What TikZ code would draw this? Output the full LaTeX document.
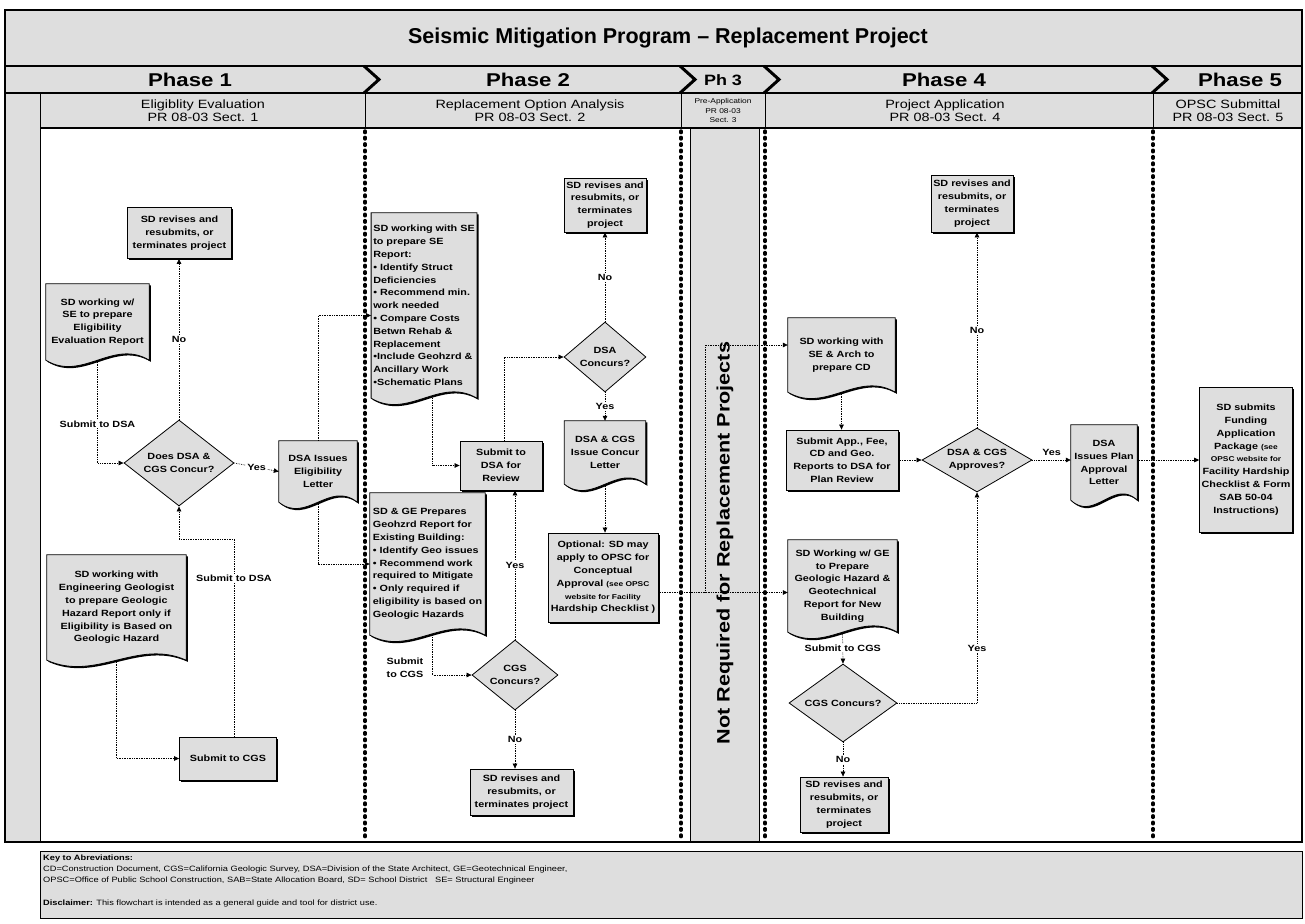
\documentclass[tikz,border=0pt]{standalone}
\usepackage{fontspec}
\setmainfont{Liberation Sans}
\newfontfamily\wide{Liberation Sans}[FakeStretch=1.2]
\usetikzlibrary{shapes.geometric,arrows.meta,shadows,calc,backgrounds}
\definecolor{bgshade}{gray}{0.87}
\newcommand{\bx}{\wide\bfseries\fontsize{9}{12.8}\selectfont}
\newcommand{\smb}{\wide\bfseries\fontsize{7}{10.5}\selectfont}
\newcommand{\zw}[1]{\makebox[0pt]{#1}}
\newcommand{\docshape}[1]{%
  \path[docsty] let \p1=(#1.north west), \p2=(#1.south east), \n1={\x2-\x1} in
   (\p1) -- (\x2,\y1) -- (\p2) .. controls ({\x2-0.35*\n1},{\y2+22pt}) and ({\x1+0.35*\n1},{\y2-22pt}) .. (\x1,\y2) -- cycle;}
\begin{document}
\begin{tikzpicture}[x=1pt,y=-1pt,
 shd/.style={drop shadow={shadow xshift=1.6pt,shadow yshift=-1.6pt,fill=black,opacity=1}},
 box/.style={draw,line width=0.8pt,fill=bgshade,shd,align=center,font=\bx,inner sep=2pt},
 doc/.style={align=center,font=\bx,inner sep=2pt},
 docsty/.style={draw,line width=0.8pt,fill=bgshade,shd},
 dia/.style={diamond,draw,line width=0.8pt,fill=bgshade,align=center,font=\bx,inner sep=0pt},
 arr/.style={densely dotted,line width=0.7pt,-{Triangle[length=5pt,width=4.5pt]}},
 lbl/.style={fill=white,inner sep=1pt,font=\bx},
 div/.style={line width=3.4pt,dash pattern=on 1.6pt off 4.8pt,line cap=round},
 hdr/.style={font=\wide\fontsize{12}{13.5}\selectfont,align=center},
 ph/.style={font=\wide\bfseries\fontsize{18.5}{20}\selectfont},
 chev/.style={line width=3pt,line join=miter},
 keytxt/.style={font=\wide\fontsize{7.7}{10}\selectfont,anchor=west,inner sep=0pt}]
\useasboundingbox (0,0) rectangle (1305,923);
\begin{scope}[on background layer]
 \fill[white] (0,0) rectangle (1305,923);
\end{scope}
% header bands
\fill[bgshade] (5,10) rectangle (1302,128);
\fill[bgshade] (5,93) rectangle (40,842);
\fill[bgshade] (690,128) rectangle (759,842);
\draw[line width=1.2pt] (5,10) rectangle (1302,842);
\draw[line width=1.5pt] (5,66) -- (1302,66);
\draw[line width=1.2pt] (5,93) -- (1302,93);
\draw[line width=1.2pt] (40,128) -- (1302,128);
\draw[line width=1pt] (40,93) -- (40,842);
\draw[line width=0.8pt] (690,128) -- (690,842) (759,128) -- (759,842);
\foreach \xx in {365,681,765,1153}{
  \draw[chev] (\xx-1,66) -- (\xx+14,79.5) -- (\xx-1,93);
  \draw[line width=0.8pt] (\xx,93) -- (\xx,128);
  \draw[div] (\xx,131) -- (\xx,840);
}
% title and phases
\node[font=\bfseries\fontsize{21.5}{24}\selectfont] (title) at (668,38) {Seismic Mitigation Program -- Replacement Project};
\node[ph] (p1) at (190,80) {Phase 1};
\node[ph] (p2) at (528,80) {Phase 2};
\node[font=\wide\bfseries\fontsize{15}{16}\selectfont] (p3) at (723,80) {Ph 3};
\node[ph] (p4) at (944,80) {Phase 4};
\node[ph] (p5) at (1240,80) {Phase 5};
\node[hdr] (s1) at (203,110.5) {Eligiblity Evaluation\\PR 08-03 Sect. 1};
\node[hdr] (s2) at (530,110.5) {Replacement Option Analysis\\PR 08-03 Sect. 2};
\node[font=\wide\fontsize{7}{9.5}\selectfont,align=center] (s3) at (723,110.5) {Pre-Application\\PR 08-03\\Sect. 3};
\node[hdr] (s4) at (945,110.5) {Project Application\\PR 08-03 Sect. 4};
\node[hdr] (s5) at (1228,110.5) {OPSC Submittal\\PR 08-03 Sect. 5};
\node[rotate=90,font=\wide\bfseries\fontsize{18}{20}\selectfont] (nr) at (725,543) {Not Required for Replacement Projects};
% ---------- Phase 1
\node[box,minimum width=104,minimum height=51] (rev1) at (179.5,233) {SD revises and\\resubmits, or\\terminates project};
\node[doc,minimum width=103,minimum height=76] (doc1) at (97.5,322) {SD working w/\\SE to prepare\\Eligibility\\Evaluation Report};
\node[dia,minimum width=110,minimum height=86] (d1) at (179,463) {\zw{Does DSA \&}\\\zw{CGS Concur?}};
\node[doc,minimum width=78,minimum height=61] (ltr1) at (318,471.5) {DSA Issues\\Eligibility\\Letter};
\node[doc,minimum width=139,minimum height=105] (doc2) at (116.5,607.5) {SD working with\\Engineering Geologist\\to prepare Geologic\\Hazard Report only if\\Eligibility is Based on\\Geologic Hazard};
\node[box,minimum width=97,minimum height=43] (cgs1) at (228,758.5) {Submit to CGS};
\coordinate (c1) at (234,539);
% ---------- Phase 2
\node[doc,align=left,minimum width=104,minimum height=185] (sedoc) at (424,305.5) {SD working with SE\\to prepare SE\\Report:\\• Identify Struct\\Deficiencies\\• Recommend min.\\work needed\\• Compare Costs\\Betwn Rehab \&\\Replacement\\•Include Geohzrd \&\\Ancillary Work\\•Schematic Plans};
\node[doc,align=left,minimum width=115,minimum height=142] (gedoc) at (427.5,564) {SD \& GE Prepares\\Geohzrd Report for\\Existing Building:\\• Identify Geo issues\\• Recommend work\\required to Mitigate\\•  Only required if\\eligibility is based on\\Geologic Hazards};
\node[box,minimum width=82,minimum height=49] (sub2) at (501,465.5) {Submit to\\DSA for\\Review};
\node[dia,minimum width=82,minimum height=70] (d2) at (605,357) {\zw{DSA}\\\zw{Concurs?}};
\node[box,minimum width=82,minimum height=54] (rev2) at (605,205) {SD revises and\\resubmits, or\\terminates\\project};
\node[doc,minimum width=81,minimum height=63] (ltr2) at (605,452.5) {DSA \& CGS\\Issue Concur\\Letter};
\node[box,minimum width=110,minimum height=89] (opt) at (603,577.5) {Optional: SD may\\apply to OPSC for\\Conceptual\\Approval {\smb(see OPSC}\\\smb website for Facility\\Hardship Checklist )};
\node[dia,minimum width=86,minimum height=70] (d3) at (515,675) {\zw{CGS}\\\zw{Concurs?}};
\node[box,minimum width=103,minimum height=46] (rev3) at (521.5,792) {SD revises and\\resubmits, or\\terminates project};
\node[font=\bx,align=center] (lsub) at (405,668) {Submit\\to CGS};
% ---------- Phase 4
\node[doc,minimum width=107,minimum height=74] (cddoc) at (841.5,355) {SD working with\\SE \& Arch to\\prepare CD};
\node[box,minimum width=112,minimum height=60] (sub4) at (842,460) {Submit App., Fee,\\CD and Geo.\\Reports to DSA for\\Plan Review};
\node[dia,minimum width=110,minimum height=64] (d4) at (977,460) {\zw{DSA \& CGS}\\\zw{Approves?}};
\node[box,minimum width=82,minimum height=57] (rev4) at (972,203.5) {SD revises and\\resubmits, or\\terminates\\project};
\node[doc,minimum width=109,minimum height=92] (gedoc4) at (842.5,586) {SD Working w/ GE\\to Prepare\\Geologic Hazard \&\\Geotechnical\\Report for New\\Building};
\node[dia,minimum width=108,minimum height=78] (d5) at (843,703) {\zw{CGS Concurs?}};
\node[box,minimum width=88,minimum height=55] (rev5) at (844,804.5) {SD revises and\\resubmits, or\\terminates\\project};
\node[doc,minimum width=66,minimum height=75] (ltr4) at (1104,462.5) {DSA\\Issues Plan\\Approval\\Letter};
% ---------- Phase 5
\node[box,minimum width=92,minimum height=145] (fin) at (1246,459.5) {SD submits\\Funding\\Application\\Package {\smb(see}\\\smb OPSC website for\\Facility Hardship\\Checklist \& Form\\SAB 50-04\\Instructions)};
% ---------- connectors
\draw[arr] (doc1.south) -- node[lbl,pos=0.62]{Submit to DSA} (doc1.south |- d1.west) -- (d1.west);
\draw[arr] (d1.north) -- node[lbl]{No} (d1.north |- rev1.south);
\draw[arr] (d1.east) -- node[lbl]{Yes} (ltr1.west);
\draw[arr] (doc2.south) |- (cgs1.west);
\draw[arr] (c1 |- cgs1.north) -- node[lbl,pos=0.8]{Submit to DSA} (c1) -| (d1.south);
\draw[arr] (ltr1.north) |- ([yshift=-10pt]sedoc.west);
\draw[arr] (ltr1.south) |- (gedoc.west);
\draw[arr] ([xshift=8pt]sedoc.south) |- (sub2.west);
\draw[arr] ([xshift=3pt]sub2.north) |- (d2.west);
\draw[arr] (d2.north) -- node[lbl]{No} (rev2.south);
\draw[arr] (d2.south) -- node[lbl]{Yes} (ltr2.north);
\draw[arr] (ltr2.south) -- (ltr2.south |- opt.north);
\draw[arr] ([xshift=5pt]gedoc.south) |- (d3.west);
\draw[arr] (d3.north) -- node[lbl]{Yes} (d3.north |- sub2.south);
\draw[arr] (d3.south) -- node[lbl]{No} (d3.south |- rev3.north);
\path ([yshift=-15pt]opt.east) coordinate (o1) ++(47,0) coordinate (j);
\draw[arr] (o1) -- (o1 -| gedoc4.west);
\draw[arr] (j) |- ([yshift=10pt]cddoc.west);
\draw[arr] (cddoc.south) -- (cddoc.south |- sub4.north);
\draw[arr] (sub4.east) -- (d4.west);
\draw[arr] (d4.north) -- node[lbl]{No} (d4.north |- rev4.south);
\draw[arr] (gedoc4.south) -- node[lbl]{Submit to CGS} (d5.north);
\draw[arr] (d5.east) -| node[lbl,pos=0.63]{Yes} (d4.south);
\draw[arr] (d5.south) -- node[lbl]{No} (d5.south |- rev5.north);
\draw[arr] (d4.east) -- node[font=\bx,above=1pt]{Yes} (d4.east -| ltr4.west);
\draw[arr] (d4.east -| ltr4.east) -- (d4.east -| fin.west);
% ---------- key
\node[draw,line width=0.6pt,fill=bgshade,anchor=north west,minimum width=1262,minimum height=67,inner sep=0pt] (key) at (40,851) {};
\node[keytxt] (k1) at (43,858) {\textbf{Key to Abreviations:}};
\node[keytxt] (k2) at (43,869) {CD=Construction Document, CGS=California Geologic Survey, DSA=Division of the State Architect, GE=Geotechnical Engineer,};
\node[keytxt] (k3) at (43,880.5) {OPSC=Office of Public School Construction, SAB=State Allocation Board, SD= School District \ \ SE= Structural Engineer};
\node[keytxt] (k4) at (43,903.5) {\textbf{Disclaimer:} This flowchart is intended as a general guide and tool for district use.};
% ---------- document outlines
\begin{scope}[on background layer]
 \foreach \dd in {doc1,ltr1,doc2,sedoc,gedoc,ltr2,cddoc,gedoc4,ltr4}{\docshape{\dd}}
\end{scope}
\end{tikzpicture}
\end{document}
